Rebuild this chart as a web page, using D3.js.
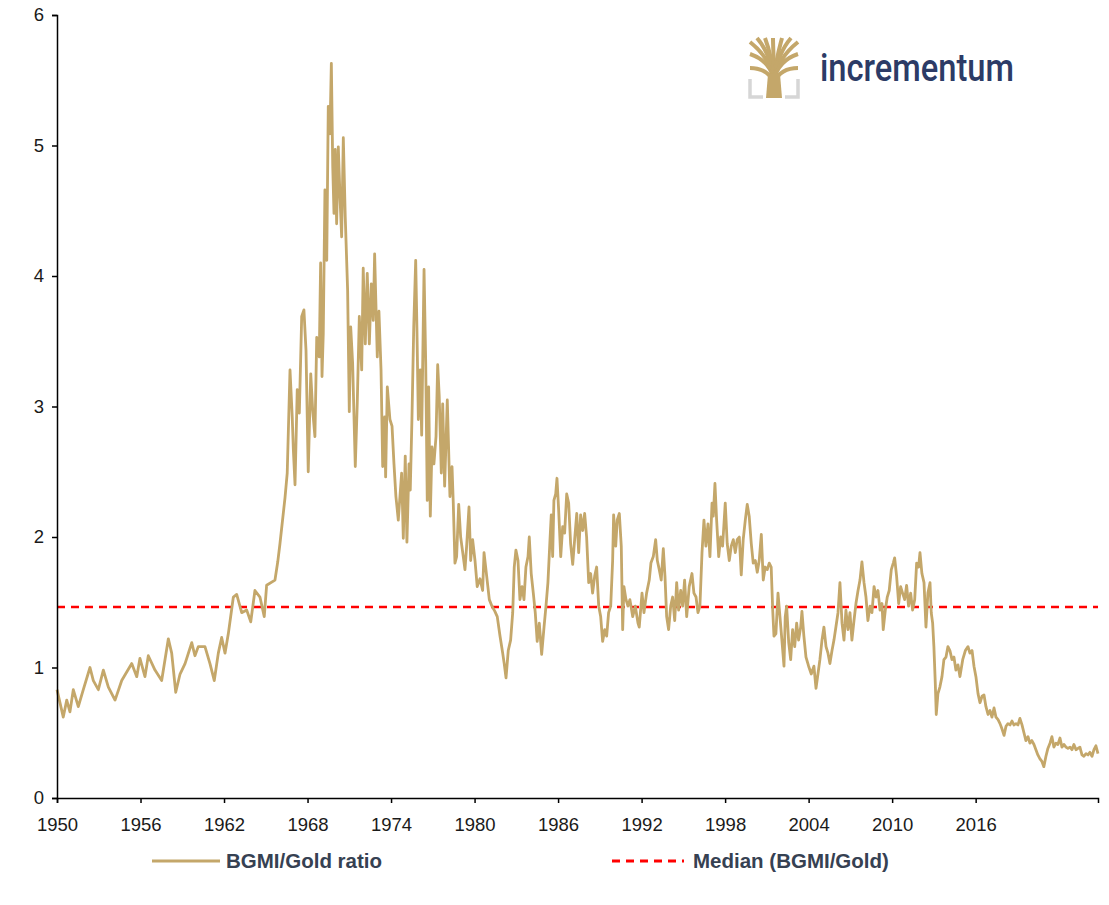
<!DOCTYPE html>
<html><head><meta charset="utf-8">
<script src="https://cdnjs.cloudflare.com/ajax/libs/d3/7.8.5/d3.min.js"></script>
<style>body{margin:0;background:#fff}svg{display:block}</style>
</head><body><svg id="c" width="1109" height="905"></svg>
<script>
// decimal-year offsets from 1950 and ratio values
const yearOffsets = [0.00,0.45,0.70,0.93,1.17,1.53,1.89,2.37,2.61,2.97,3.33,3.69,4.17,4.65,5.37,5.73,5.96,6.32,6.56,7.04,7.52,8.00,8.24,8.53,8.84,9.20,9.68,9.91,10.15,10.63,10.99,11.30,11.59,11.83,12.07,12.31,12.67,12.91,13.27,13.63,13.92,14.22,14.58,14.89,15.06,15.66,15.86,16.02,
16.38,16.54,16.74,16.90,16.98,17.10,17.26,17.41,17.58,17.74,17.89,18.05,18.23,18.37,18.53,18.66,18.84,18.94,19.04,19.13,19.25,19.38,19.49,19.61,19.71,19.81,19.90,19.99,20.09,20.21,20.33,20.45,20.57,20.71,20.88,21.00,21.10,21.24,21.43,21.57,21.72,21.89,22.00,22.15,22.29,22.44,22.58,22.72,22.82,23.01,23.13,23.28,23.40,23.54,23.61,23.73,23.92,24.07,24.21,24.35,24.52,24.76,24.88,25.02,25.14,25.29,25.38,25.50,25.63,25.77,25.86,25.96,26.10,26.20,26.37,26.49,26.60,26.70,26.82,26.94,27.08,27.23,27.35,27.46,27.61,27.71,27.85,28.04,28.23,28.38,28.47,28.59,28.71,28.86,29.00,29.15,29.31,29.43,29.60,29.72,29.86,
30.03,30.19,30.39,30.58,30.68,30.87,31.06,31.25,31.46,31.63,31.83,32.02,32.13,32.26,32.42,32.59,32.74,32.85,32.97,33.12,33.26,33.41,33.55,33.69,33.84,33.93,34.07,34.22,34.36,34.50,34.65,34.82,34.99,35.13,35.27,35.42,35.51,35.61,35.70,35.83,35.92,36.04,36.19,36.33,36.47,36.62,36.76,36.90,37.05,37.19,37.34,37.48,37.62,37.77,37.91,38.05,38.20,38.34,38.48,38.63,38.77,38.92,39.06,39.20,39.35,39.49,39.63,39.78,39.92,39.99,40.14,40.25,40.40,40.54,40.64,40.73,40.88,41.02,41.16,41.36,41.55,41.74,41.83,
42.03,42.17,42.36,42.55,42.67,42.84,43.01,43.13,43.27,43.41,43.56,43.68,43.80,43.94,44.09,44.23,44.38,44.52,44.66,44.81,44.95,45.09,45.24,45.42,45.62,45.76,45.91,46.05,46.19,46.34,46.48,46.62,46.77,46.91,47.06,47.15,47.27,47.39,47.54,47.68,47.82,48.01,48.15,48.30,48.44,48.59,48.73,48.87,49.02,49.16,49.30,49.45,49.59,49.73,49.88,50.02,50.17,50.31,50.45,50.60,50.74,50.88,51.03,51.17,51.31,51.42,51.51,51.65,51.80,51.94,52.08,52.23,52.32,52.42,52.57,52.71,52.85,53.00,53.14,53.28,53.43,53.52,53.66,53.81,54.00,54.19,54.38,54.53,54.67,54.81,
54.96,55.10,55.25,55.39,55.53,55.68,55.82,55.96,56.11,56.25,56.40,56.54,56.68,56.83,56.97,57.11,57.26,57.40,57.55,57.69,57.83,57.98,58.12,58.26,58.41,58.55,58.70,58.84,58.98,59.13,59.27,59.36,59.51,59.65,59.79,59.94,60.08,60.18,60.32,60.47,60.61,60.75,60.90,61.04,61.18,61.33,61.47,61.62,61.76,61.90,62.00,62.14,62.29,62.43,62.57,62.72,62.81,62.91,63.00,63.10,63.17,63.29,63.43,63.58,63.72,63.87,64.01,64.15,64.30,64.44,64.58,64.73,
64.87,65.07,65.26,65.45,65.59,65.74,65.88,66.02,66.17,66.31,66.46,66.60,66.74,66.89,67.03,67.17,67.32,67.46,67.61,67.75,67.89,68.04,68.18,68.32,68.47,68.61,68.75,68.90,69.04,69.18,69.33,69.47,69.61,69.76,69.90,70.04,70.19,70.33,70.47,70.62,70.76,70.90,71.05,71.19,71.34,71.48,71.62,71.77,71.91,72.06,72.20,72.34,72.49,72.63,72.78,72.92,73.06,73.21,73.35,73.49,73.64,73.78,73.93,74.07,74.21,74.36,74.50,74.64,74.79];
const ratio = [0.83,0.62,0.75,0.66,0.83,0.70,0.83,1.00,0.90,0.83,0.98,0.85,0.75,0.90,1.03,0.93,1.07,0.93,1.09,0.98,0.90,1.22,1.11,0.81,0.95,1.03,1.19,1.09,1.16,1.16,1.03,0.90,1.11,1.23,1.11,1.26,1.54,1.56,1.42,1.44,1.35,1.59,1.54,1.39,1.63,1.67,1.81,1.95,
2.30,2.49,3.28,2.92,2.67,2.40,3.13,2.95,3.69,3.74,3.43,2.50,3.25,2.97,2.77,3.53,3.38,4.10,3.23,3.56,4.66,4.12,5.30,5.09,5.63,4.84,4.48,4.97,4.40,4.99,4.61,4.30,5.06,4.45,3.89,2.96,3.61,3.33,2.54,3.02,3.69,3.28,4.06,3.48,4.02,3.48,3.94,3.66,4.17,3.38,3.73,3.28,2.54,2.92,2.46,3.15,2.90,2.85,2.56,2.31,2.13,2.49,1.99,2.62,1.96,2.56,2.36,2.90,3.61,4.12,3.59,2.90,3.28,2.78,4.05,3.33,2.28,3.15,2.16,2.69,2.56,2.77,3.32,3.08,2.49,3.02,2.39,3.05,2.31,2.54,2.26,1.80,1.85,2.25,2.00,1.88,1.75,1.93,2.23,1.82,1.98,
1.82,1.62,1.68,1.59,1.88,1.70,1.52,1.47,1.43,1.39,1.24,1.11,1.03,0.92,1.13,1.21,1.42,1.77,1.90,1.82,1.52,1.62,1.52,1.77,1.85,2.00,1.72,1.57,1.42,1.20,1.34,1.10,1.31,1.47,1.65,1.98,2.17,1.85,2.28,2.33,2.45,2.21,1.85,2.08,2.03,2.33,2.26,1.95,1.79,1.98,2.18,1.88,2.17,2.05,2.18,2.00,1.65,1.72,1.57,1.70,1.77,1.47,1.39,1.20,1.29,1.24,1.42,1.47,1.82,2.17,1.93,2.13,2.18,1.93,1.29,1.62,1.52,1.47,1.52,1.39,1.47,1.34,1.31,
1.57,1.42,1.57,1.67,1.80,1.85,1.98,1.82,1.75,1.67,1.91,1.70,1.39,1.29,1.47,1.54,1.36,1.65,1.44,1.59,1.47,1.67,1.39,1.62,1.72,1.57,1.54,1.42,1.47,1.88,2.13,1.93,2.10,1.85,2.26,2.16,2.41,2.13,1.85,2.00,1.93,2.26,1.95,1.82,1.93,1.98,1.88,1.98,2.00,1.71,1.98,2.13,2.25,2.16,1.95,1.80,1.82,1.73,1.82,2.02,1.67,1.77,1.75,1.80,1.77,1.44,1.24,1.26,1.57,1.39,1.21,1.01,1.39,1.47,1.19,1.06,1.29,1.16,1.34,1.21,1.31,1.43,1.24,1.08,1.01,0.95,1.01,0.84,0.95,1.06,
1.21,1.31,1.16,1.11,1.03,1.13,1.21,1.31,1.42,1.65,1.34,1.21,1.44,1.29,1.42,1.21,1.36,1.49,1.59,1.67,1.81,1.65,1.54,1.36,1.47,1.42,1.62,1.54,1.59,1.44,1.49,1.29,1.44,1.54,1.59,1.75,1.80,1.84,1.70,1.49,1.62,1.57,1.52,1.63,1.47,1.57,1.44,1.52,1.80,1.77,1.88,1.72,1.65,1.31,1.57,1.65,1.42,1.34,1.16,0.88,0.64,0.80,0.85,0.93,1.06,1.08,1.16,1.13,1.06,1.08,0.98,1.02,
0.93,1.06,1.13,1.16,1.11,1.13,1.01,0.93,0.80,0.73,0.78,0.79,0.70,0.64,0.67,0.62,0.69,0.62,0.60,0.57,0.53,0.48,0.55,0.57,0.56,0.59,0.56,0.57,0.56,0.61,0.56,0.50,0.44,0.47,0.42,0.44,0.41,0.37,0.33,0.30,0.28,0.24,0.32,0.38,0.42,0.47,0.39,0.42,0.41,0.46,0.39,0.41,0.39,0.38,0.39,0.37,0.41,0.37,0.38,0.39,0.33,0.32,0.34,0.33,0.35,0.32,0.37,0.40,0.34];
const medianValue = 1.464;
const xTickYears = [1950,1956,1962,1968,1974,1980,1986,1992,1998,2004,2010,2016];
const yTickValues = [0,1,2,3,4,5,6];
const seriesNames = ["BGMI/Gold ratio","Median (BGMI/Gold)"];
const baseYear = 1950, endYear = 2024.79;

const svg = d3.select("#c");
const L = 57, R = 1098, T = 15, B = 798;
const x = d3.scaleLinear().domain([baseYear, endYear]).range([L, R]);
const y = d3.scaleLinear().domain([0, 6]).range([B, T]);
const data = yearOffsets.map((o,i)=>({yr: baseYear + o, v: ratio[i]}));

const gold = "#c4a76a";
const font = "Liberation Sans, Arial, sans-serif";

// median line
svg.append("line").attr("x1", L).attr("x2", R)
  .attr("y1", y(medianValue)).attr("y2", y(medianValue))
  .attr("stroke", "#ff0000").attr("stroke-width", 2.5).attr("stroke-dasharray", "8,6");

// series line
svg.append("path").datum(data)
  .attr("d", d3.line().x(d=>x(d.yr)).y(d=>y(d.v)))
  .attr("fill","none").attr("stroke", gold).attr("stroke-width", 2.8).attr("stroke-linejoin","round");

// axes
const yAxis = svg.append("g").attr("transform", `translate(${L},0)`)
  .call(d3.axisLeft(y).tickValues(yTickValues).tickFormat(d3.format("d")).tickSize(5).tickPadding(8));
const xAxis = svg.append("g").attr("transform", `translate(0,${B})`)
  .call(d3.axisBottom(x).tickValues(xTickYears).tickFormat(d3.format("d")).tickSize(5).tickPadding(15));
[yAxis, xAxis].forEach(g=>{
  g.select(".domain").attr("stroke","#000").attr("stroke-width",1.5);
  g.selectAll(".tick line").attr("stroke","#000").attr("stroke-width",1.5);
  g.selectAll("text").style("font-family", font).style("font-size", "18.5px").attr("fill","#1a1a1a");
});

// legend
const legY = 861;
const lg = svg.append("g");
lg.append("line").attr("x1",152).attr("x2",220).attr("y1",legY).attr("y2",legY)
  .attr("stroke",gold).attr("stroke-width",3);
lg.append("text").attr("x",226).attr("y",legY+7).text(seriesNames[0])
  .attr("font-family",font).attr("font-weight","bold").attr("font-size",20.5).attr("fill","#364152");
lg.append("line").attr("x1",612).attr("x2",684).attr("y1",legY).attr("y2",legY)
  .attr("stroke","#ff0000").attr("stroke-width",3).attr("stroke-dasharray","8,6");
lg.append("text").attr("x",693).attr("y",legY+7).text(seriesNames[1])
  .attr("font-family",font).attr("font-weight","bold").attr("font-size",20.5).attr("fill","#364152");

// logo
const logo = svg.append("g");
const branches = [
  "M774,80 C771,66 762,58 750,54","M774,80 C771,62 760,50 750,42",
  "M774,80 C771,58 764,46 757,38","M774,80 C772,58 768,46 765,38",
  "M774,80 C774,60 773,48 773,38","M774,80 C776,58 780,46 782,38",
  "M774,80 C777,58 784,46 791,38","M774,80 C777,62 788,50 798,42",
  "M774,80 C777,66 786,58 798,54","M774,82 C769,72 760,68 750,68",
  "M774,82 C779,72 788,68 798,68"
];
branches.forEach(d=>logo.append("path").attr("d",d).attr("fill","none").attr("stroke",gold).attr("stroke-width",4).attr("stroke-linecap","butt"));
logo.append("path").attr("d","M766,98 L768,74 L780,74 L782,98 Z").attr("fill",gold);
logo.append("path").attr("d","M750,79 L750,97 L763,97").attr("fill","none").attr("stroke","#d6d6d6").attr("stroke-width",3.5);
logo.append("path").attr("d","M798,79 L798,97 L785,97").attr("fill","none").attr("stroke","#d6d6d6").attr("stroke-width",3.5);
logo.append("text").attr("x",820).attr("y",81).text("incrementum")
  .attr("font-family","Roboto, sans-serif").attr("font-weight",500).attr("font-size",38)
  .attr("fill","#2c3b66").attr("textLength",194).attr("lengthAdjust","spacingAndGlyphs");
</script></body></html>
